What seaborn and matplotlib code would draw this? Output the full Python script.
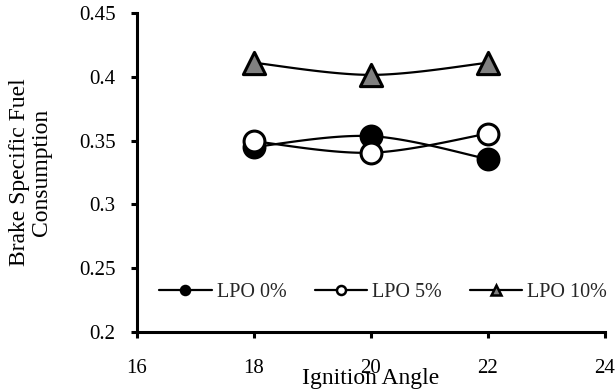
import numpy as np
import pandas as pd
import matplotlib
matplotlib.use("Agg")
import matplotlib.pyplot as plt
import seaborn as sns
from matplotlib.lines import Line2D

# ---- data ----
angles = [18, 20, 22]
lpo0 = [0.345, 0.3535, 0.3355]
lpo5 = [0.3495, 0.3405, 0.3555]
lpo10 = [0.411, 0.4015, 0.411]
series_names = ["LPO 0%", "LPO 5%", "LPO 10%"]
x_ticks = [16, 18, 20, 22, 24]
y_ticks = [0.2, 0.25, 0.3, 0.35, 0.4, 0.45]
y_tick_labels = ["0.2", "0.25", "0.3", "0.35", "0.4", "0.45"]

sns.set_theme(style="white")
plt.rcParams["font.family"] = ["Liberation Serif", "DejaVu Serif"]
FS_TICK = 15
FS_LEG = 14.5
FS_LAB = 17

fig = plt.figure(figsize=(6.16, 3.89), dpi=100)
ax = fig.add_axes([0.2224, 0.1465, 0.7597, 0.8201])


def smooth(xs, ys, n=40):
    """Excel-like smoothed line (Catmull-Rom bezier) through data points."""
    xs = np.asarray(xs, float); ys = np.asarray(ys, float)
    px, py = [], []
    k = len(xs)
    for i in range(k - 1):
        x0, y0 = (xs[i - 1], ys[i - 1]) if i > 0 else (xs[i], ys[i])
        x1, y1 = xs[i], ys[i]
        x2, y2 = xs[i + 1], ys[i + 1]
        x3, y3 = (xs[i + 2], ys[i + 2]) if i + 2 < k else (x2, y2)
        c1x, c1y = x1 + (x2 - x0) / 6, y1 + (y2 - y0) / 6
        c2x, c2y = x2 - (x3 - x1) / 6, y2 - (y3 - y1) / 6
        t = np.linspace(0, 1, n)
        bx = (1-t)**3*x1 + 3*(1-t)**2*t*c1x + 3*(1-t)*t**2*c2x + t**3*x2
        by = (1-t)**3*y1 + 3*(1-t)**2*t*c1y + 3*(1-t)*t**2*c2y + t**3*y2
        px.extend(bx); py.extend(by)
    return np.array(px), np.array(py)


styles = [
    dict(marker="o", face="black", size=15),
    dict(marker="o", face="white", size=15),
    dict(marker="^", face="#808080", size=16),
]
values = [lpo0, lpo5, lpo10]

for i, (name, vals, st) in enumerate(zip(series_names, values, styles)):
    sx, sy = smooth(angles, vals)
    ax.plot(sx, sy, color="black", lw=1.6, zorder=2 + 2 * i)
    df = pd.DataFrame({"x": angles, "y": vals})
    sns.scatterplot(data=df, x="x", y="y", ax=ax, marker=st["marker"],
                    s=st["size"] ** 2, color=st["face"], edgecolor="black",
                    linewidth=2.2, zorder=3 + 2 * i, legend=False)

ax.set_xlim(16, 24)
ax.set_ylim(0.2, 0.45)
ax.set_xticks(x_ticks)
ax.set_xticklabels([str(v) for v in x_ticks])
ax.set_yticks(y_ticks)
ax.set_yticklabels(y_tick_labels)

for s in ["top", "right"]:
    ax.spines[s].set_visible(False)
for s in ["left", "bottom"]:
    ax.spines[s].set_color("black")
    ax.spines[s].set_linewidth(2.2)

ax.tick_params(axis="both", direction="out", length=4.5, width=2.2,
               color="black", labelsize=FS_TICK, labelcolor="black",
               bottom=True, left=True)
ax.tick_params(axis="x", pad=15)
ax.tick_params(axis="y", pad=11)
ax.grid(False)
ax.set_xlabel("")
ax.set_ylabel("Brake Specific Fuel\nConsumption", fontsize=FS_LAB, color="black",
              linespacing=1.1)
ax.yaxis.label.set_va("center")
ax.yaxis.set_label_coords(-0.228, 0.5)
ax.text(0.5, -0.145, "Ignition Angle", transform=ax.transAxes, ha="center",
        va="center", fontsize=FS_LAB, color="black")

handles = [
    Line2D([], [], color="black", lw=1.6, marker=st["marker"],
           markerfacecolor=st["face"], markeredgecolor="black",
           markeredgewidth=1.8, markersize=6.5)
    for st in styles
]
ax.legend(handles, series_names, loc="center", bbox_to_anchor=(0.526, 0.125),
          ncol=3, frameon=False, fontsize=FS_LEG, handlelength=2.6,
          handletextpad=0.25, columnspacing=1.4)

fig.savefig("out.png", dpi=100)
